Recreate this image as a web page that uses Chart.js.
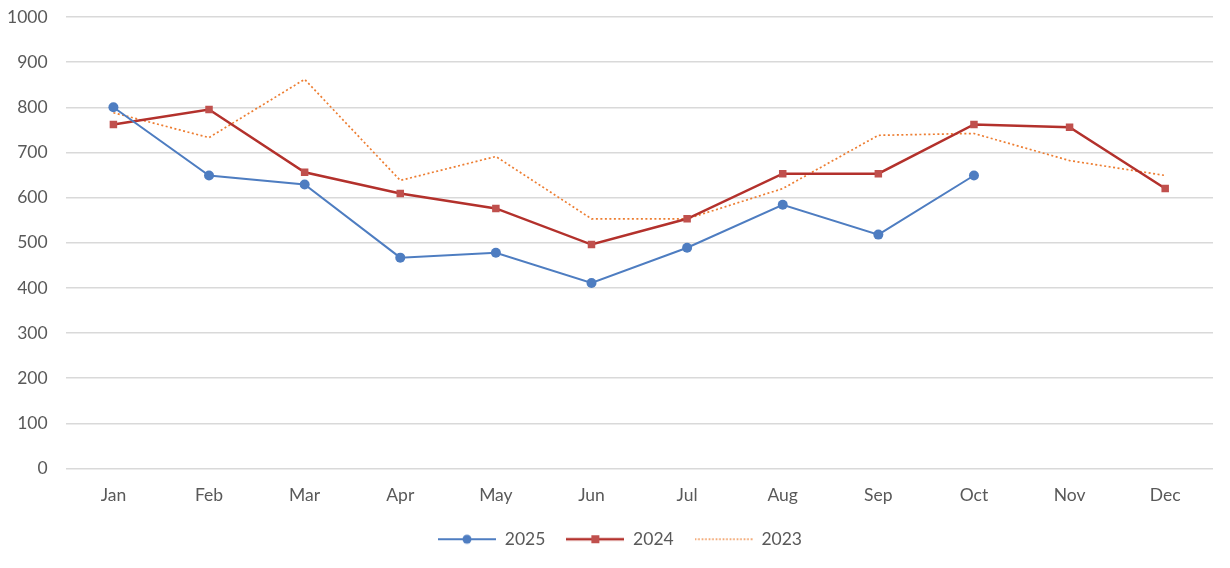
<!DOCTYPE html>
<html><head><meta charset="utf-8">
<script src="https://cdn.jsdelivr.net/npm/chart.js@4"></script>
<style>html,body{margin:0;padding:0;background:#fff}#wrap{width:1230px;height:568px}</style>
</head><body><div id="wrap"><canvas id="c" width="1230" height="568"></canvas></div>
<script>
const months = ["Jan","Feb","Mar","Apr","May","Jun","Jul","Aug","Sep","Oct","Nov","Dec"];
const s2025 = [800,649,629,467,478,411,489,584,518,649,null,null];
const s2024 = [762,795,656,609,576,496,553,653,653,762,756,620];
const s2023 = [788,733,862,638,691,553,553,620,738,742,682,649];
const yTicks = [0,100,200,300,400,500,600,700,800,900,1000];

const BLUE = "#4e7dc1", RED = "#b3312c", REDM = "#c0504d", ORANGE = "#ed7d31";
const FONT = {family:"Lato", size:17.5};
function legendIcon(color, marker, dash, lw) {
  const c = document.createElement("canvas");
  c.width = 58; c.height = 14;
  const g = c.getContext("2d");
  g.strokeStyle = color; g.lineWidth = lw; g.setLineDash(dash);
  g.beginPath(); g.moveTo(0,7); g.lineTo(58,7); g.stroke();
  g.setLineDash([]);
  if (marker === "circle") { g.fillStyle = color; g.beginPath(); g.arc(29,7,4.5,0,Math.PI*2); g.fill(); }
  if (marker === "rect") { g.fillStyle = REDM; g.fillRect(25,3,8,8); }
  return c;
}
const icons = [legendIcon(BLUE,"circle",[],2), legendIcon(RED,"rect",[],2.5), legendIcon(ORANGE,null,[1.5,2],1.6)];

const legendShift = {
  id: "legendShift",
  afterLayout(chart) { const L = chart.legend; if (L) { L.left += 19; L.right += 19; L.top -= 4; L.bottom -= 4; } }
};

new Chart(document.getElementById("c"), {
  type: "line",
  data: {
    labels: months,
    datasets: [
      {label:"2025", data:s2025, borderColor:BLUE, backgroundColor:BLUE, borderWidth:2, pointStyle:"circle", pointRadius:5, pointBackgroundColor:BLUE, pointBorderWidth:0, spanGaps:false},
      {label:"2024", data:s2024, borderColor:RED, backgroundColor:REDM, borderWidth:2.5, pointStyle:"rect", pointRadius:5.3, pointBackgroundColor:REDM, pointBorderWidth:0},
      {label:"2023", data:s2023, borderColor:ORANGE, backgroundColor:ORANGE, borderWidth:1.7, borderDash:[2,2.5], pointRadius:0}
    ]
  },
  plugins:[legendShift],
  options: {
    responsive:false, animation:false,
    layout:{padding:{left:-11,right:17,top:17,bottom:6}},
    plugins:{
      tooltip:{enabled:false},
      legend:{position:"bottom", labels:{
        color:"#595959", font:FONT, usePointStyle:true, pointStyleWidth:58, padding:21,
        generateLabels(chart){
          return chart.data.datasets.map((d,i)=>({text:d.label, pointStyle:icons[i], fontColor:"#595959", datasetIndex:i, lineWidth:0, strokeStyle:"transparent", fillStyle:"transparent"}));
        }
      }}
    },
    scales:{
      x:{offset:true, grid:{display:false}, border:{display:false},
         ticks:{color:"#595959", font:FONT, padding:8}},
      y:{min:0, max:1000, afterBuildTicks(ax){ax.ticks = yTicks.map(v=>({value:v}));},
         afterFit(s){ s.paddingTop = 0; s.paddingBottom = 0; },
         grid:{color:"#d9d9d9", lineWidth:1.5, drawTicks:false}, border:{display:false},
         ticks:{color:"#595959", font:FONT, padding:18, callback:(v)=>String(v)}}
    }
  }
});
</script></body></html>
